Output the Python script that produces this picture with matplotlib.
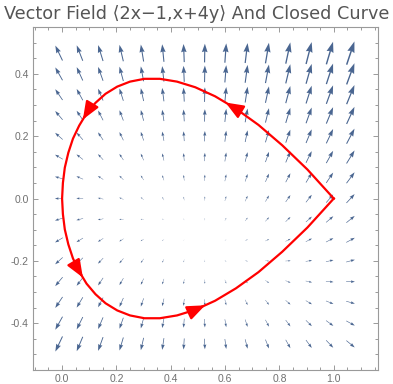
import numpy as np
import matplotlib
matplotlib.use('Agg')
import matplotlib.pyplot as plt
from matplotlib.ticker import MultipleLocator

# vector field <2x-1, x+4y> sampled on a 15 x 15 grid
x_grid = np.linspace(-0.0117, 1.0617, 15)
y_grid = np.linspace(-0.4667, 0.4667, 15)

# closed curve (counterclockwise from the corner at (1, 0))
curve_x = [1.000, 0.903, 0.810, 0.723, 0.640, 0.563, 0.490, 0.423, 0.360, 0.303,
           0.250, 0.203, 0.160, 0.123, 0.090, 0.063, 0.040, 0.023, 0.010, 0.003,
           0.000,
           0.003, 0.010, 0.023, 0.040, 0.063, 0.090, 0.123, 0.160, 0.203, 0.250,
           0.303, 0.360, 0.423, 0.490, 0.563, 0.640, 0.723, 0.810, 0.903, 1.000]
curve_y = [0.000, 0.093, 0.171, 0.236, 0.288, 0.328, 0.357, 0.375, 0.384, 0.384,
           0.375, 0.359, 0.336, 0.307, 0.273, 0.234, 0.192, 0.147, 0.099, 0.050,
           0.000,
           -0.050, -0.099, -0.147, -0.192, -0.234, -0.273, -0.307, -0.336, -0.359, -0.375,
           -0.384, -0.384, -0.375, -0.357, -0.328, -0.288, -0.236, -0.171, -0.093, 0.000]
# curve segments that carry a direction arrow
arrow_segments = [4, 14, 25, 34]

title = 'Vector Field \u27e82x\u22121,x+4y\u27e9 And Closed Curve'

fig = plt.figure(figsize=(3.93, 3.84), dpi=100)
ax = fig.add_axes([0.084, 0.0365, 0.878, 0.893])

X, Y = np.meshgrid(x_grid, y_grid)
U = 2 * X - 1
V = X + 4 * Y
ax.quiver(X, Y, U, V, angles='xy', scale_units='dots', scale=0.128,
          units='dots', width=3, headlength=7.5, headaxislength=6.8,
          headwidth=5, minshaft=2.2, minlength=0, pivot='middle',
          color='#4a6691', zorder=2)

ax.plot(curve_x, curve_y, color='#ff0000', lw=1.6, zorder=3,
        solid_joinstyle='miter')
for k in arrow_segments:
    tail = (curve_x[k], curve_y[k])
    tip = ((curve_x[k] + curve_x[k + 1]) / 2, (curve_y[k] + curve_y[k + 1]) / 2)
    ax.annotate('', xy=tip, xytext=tail,
                arrowprops=dict(arrowstyle='-|>,head_length=0.6,head_width=0.24',
                                color='#ff0000', lw=1.6, mutation_scale=18,
                                shrinkA=0, shrinkB=0), zorder=4)

ax.set_xlim(-0.107, 1.163)
ax.set_ylim(-0.55, 0.55)
ax.xaxis.set_major_locator(MultipleLocator(0.2))
ax.xaxis.set_minor_locator(MultipleLocator(0.05))
ax.yaxis.set_major_locator(MultipleLocator(0.2))
ax.yaxis.set_minor_locator(MultipleLocator(0.05))
ax.xaxis.set_major_formatter(matplotlib.ticker.FormatStrFormatter('%.1f'))
ax.yaxis.set_major_formatter(matplotlib.ticker.FormatStrFormatter('%.1f'))

frame = '#9a9a9a'
for s in ax.spines.values():
    s.set_color(frame)
    s.set_linewidth(0.8)
ax.tick_params(which='both', direction='in', top=True, right=True,
               color=frame, labelcolor='#707070', labelsize=7.5, pad=3,
               width=0.7)
ax.tick_params(which='major', length=3.5)
ax.tick_params(which='minor', length=2)
for lab in ax.get_xticklabels() + ax.get_yticklabels():
    lab.set_family(['Liberation Sans', 'DejaVu Sans'])

fig.text(0.5, 0.963, title, ha='center', va='center', fontsize=12.7,
         color='#555555', family=['DejaVu Sans'])

fig.savefig('out.png', dpi=100)
